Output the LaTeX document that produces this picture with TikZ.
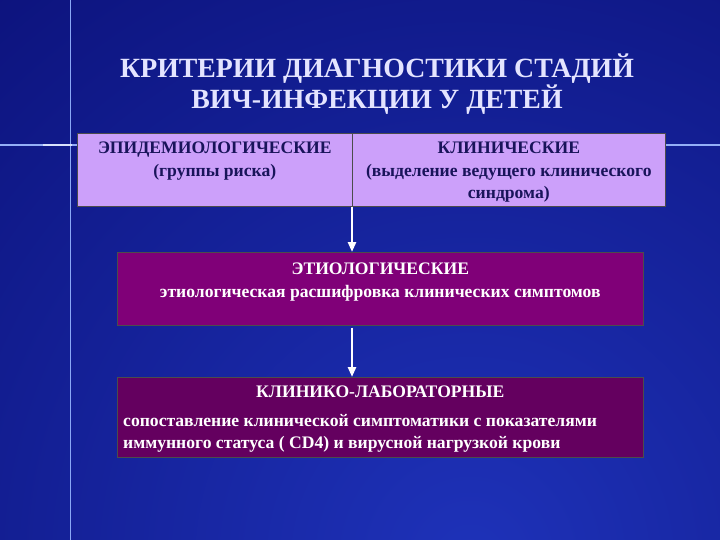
\documentclass[tikz,border=0pt]{standalone}
\usepackage{fontspec}
\setmainfont{Liberation Serif}
\usetikzlibrary{positioning,arrows.meta,calc}
\definecolor{DeepNavy}{RGB}{4,4,96}
\definecolor{BrightNavy}{RGB}{30,50,185}
\definecolor{Lilac}{RGB}{204,160,250}
\definecolor{InkBlue}{RGB}{25,20,90}
\definecolor{Plum}{RGB}{128,0,120}
\definecolor{DarkPlum}{RGB}{100,0,95}
\definecolor{TitleWhite}{RGB}{228,228,255}
\definecolor{GlowBlue}{RGB}{60,110,240}

\tikzset{
  box/.style={draw=black!70, line width=0.6pt, minimum height=#1, inner sep=0pt, anchor=north west},
  boxtext/.style={font=\bfseries\fontsize{17.6}{22.5}\selectfont, align=center, inner sep=0pt},
  flow/.style={draw=white, line width=2.6pt, -{Triangle[length=10pt,width=8pt]}}
}

\begin{document}
\begin{tikzpicture}[x=1pt,y=-1pt]
  \useasboundingbox (0,0) rectangle (720,540);
  % background
  \begin{scope}
    \clip (0,0) rectangle (720,540);
    \shade[inner color=BrightNavy, outer color=DeepNavy] (470,560) circle (1100);
  \end{scope}
  \draw [GlowBlue!60, line width=1pt] (70,0) -- (70,540);
  \draw [GlowBlue!55, line width=1.2pt] (0,145) -- (720,145);
  \draw [white!80!GlowBlue, line width=1.6pt] (43,145) -- (72,145);

  % title
  \node (title) [font=\bfseries\fontsize{27.8}{29.5}\selectfont, text=TitleWhite, align=center] at (377,84)
    {КРИТЕРИИ ДИАГНОСТИКИ СТАДИЙ\\ВИЧ-ИНФЕКЦИИ У ДЕТЕЙ};

  % top row
  \node (epid) [box=73pt, minimum width=275pt, fill=Lilac] at (77,133) {};
  \node (clin) [box=73pt, minimum width=313pt, fill=Lilac] at (352,133) {};
  \node (epidtxt) [boxtext, text=InkBlue, below=9pt of epid.north] {ЭПИДЕМИОЛОГИЧЕСКИЕ\\(группы риска)};
  \node (clintxt) [boxtext, text=InkBlue, below=9pt of clin.north] {КЛИНИЧЕСКИЕ\\(выделение ведущего клинического\\синдрома)};

  % middle
  \node (etio) [box=73pt, minimum width=526pt, fill=Plum] at (117,252) {};
  \node (etiotxt) [boxtext, text=white, below=11pt of etio.north] {ЭТИОЛОГИЧЕСКИЕ\\этиологическая расшифровка клинических симптомов};

  % bottom
  \node (lab) [box=80pt, minimum width=526pt, fill=DarkPlum] at (117,377) {};
  \node (labtxt) [boxtext, text=white, below=9pt of lab.north] {КЛИНИКО-ЛАБОРАТОРНЫЕ};
  \node (labbody) [boxtext, text=white, align=left, anchor=north west] at ($(lab.north west)+(6,37)$)
    {сопоставление клинической симптоматики с показателями\\иммунного статуса ( CD4) и вирусной нагрузкой крови};

  % arrows
  \draw [flow] (clin.south west) -- (etio.north -| clin.south west);
  \draw [flow] ($(etio.south -| clin.south west)+(0,2)$) -- (lab.north -| clin.south west);
\end{tikzpicture}
\end{document}
